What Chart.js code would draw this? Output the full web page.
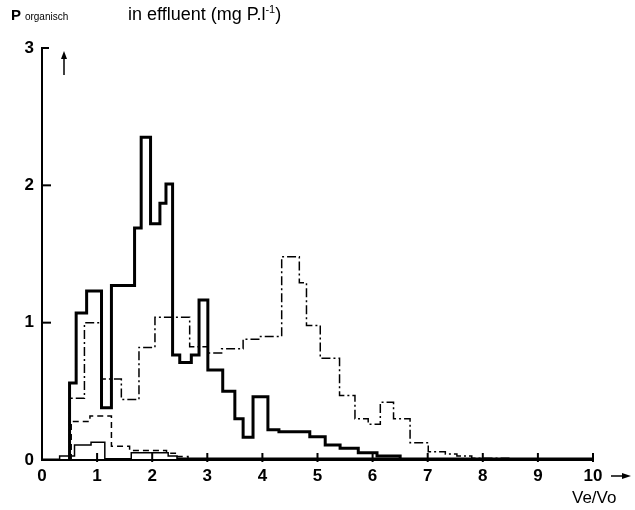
<!DOCTYPE html>
<html>
<head>
<meta charset="utf-8">
<script src="https://cdn.jsdelivr.net/npm/chart.js@4"></script>
<style>
  body { margin: 0; background: #fff; }
  #wrap { position: relative; width: 635px; height: 510px; }
  .t { position: absolute; font-family: "Liberation Sans", Arial, sans-serif; color: #000; white-space: nowrap; }
</style>
</head>
<body>
<div id="wrap">
  <canvas id="grafica" width="635" height="510"></canvas>
  <div class="t" style="left:11px; top:6px; font-size:15px; font-weight:bold;">P <span style="font-size:10px; font-weight:normal;">organisch</span></div>
  <div class="t" style="left:128px; top:3px; font-size:18px;">in effluent (mg P.l<sup style="font-size:11px;">-1</sup>)</div>
</div>
<script>
// trappen: linkerrand van elk interval en de waarde op dat interval
const randDik = [0.5, 0.62, 0.81, 1.08, 1.26, 1.68, 1.80, 1.97, 2.14, 2.25, 2.37, 2.50, 2.71, 2.85, 3.01, 3.28, 3.50, 3.65, 3.83, 4.10, 4.30, 4.86, 5.14, 5.41, 5.74, 6.08, 6.5];
const waardeDik = [0.56, 1.07, 1.23, 0.38, 1.27, 1.69, 2.35, 1.72, 1.87, 2.01, 0.765, 0.71, 0.765, 1.165, 0.655, 0.50, 0.30, 0.165, 0.46, 0.22, 0.205, 0.17, 0.11, 0.085, 0.053, 0.03, 0];

const randStreepPunt = [0.5, 0.77, 1.08, 1.44, 1.76, 2.05, 2.68, 3.01, 3.26, 3.65, 3.95, 4.35, 4.67, 4.80, 5.05, 5.40, 5.68, 5.92, 6.14, 6.38, 6.68, 7.01, 7.32, 7.53, 7.8, 8.5];
const waardeStreepPunt = [0.45, 1.0, 0.59, 0.44, 0.82, 1.04, 0.825, 0.78, 0.81, 0.88, 0.90, 1.48, 1.29, 0.98, 0.74, 0.47, 0.30, 0.26, 0.42, 0.30, 0.126, 0.06, 0.044, 0.03, 0.012, 0];

const randStreep = [0.53, 0.87, 1.26, 1.59, 2.26, 2.42, 2.65, 3.1];
const waardeStreep = [0.28, 0.32, 0.10, 0.07, 0.05, 0.025, 0.01, 0];

const randDun = [0, 0.32, 0.59, 0.89, 1.14, 1.62, 2.29, 2.45, 10];
const waardeDun = [0.005, 0.03, 0.11, 0.13, 0.01, 0.053, 0.03, 0.012, 0.012];

const xLabels = ['0', '1', '2', '3', '4', '5', '6', '7', '8', '9', '10'];
const yLabels = ['0', '1', '2', '3'];

const trap = (randen, waarden) => [{x: randen[0], y: 0}].concat(randen.map((x, i) => ({x: x, y: waarden[i]})));

const lijn = (randen, waarden, breedte, streep) => ({
    data: trap(randen, waarden),
    stepped: 'before',
    borderColor: '#000',
    borderWidth: breedte,
    borderDash: streep,
    pointRadius: 0,
    fill: false
});

const font = {family: '"Liberation Sans", Arial, sans-serif', size: 17, weight: 'bold'};

const extraTekening = {
    id: 'extraTekening',
    afterDraw(chart) {
        const ctx = chart.ctx;
        const sx = chart.scales.x, sy = chart.scales.y;
        const y0 = sy.getPixelForValue(0), x0 = sx.getPixelForValue(0);
        ctx.save();
        ctx.strokeStyle = '#000';
        ctx.fillStyle = '#000';
        ctx.lineWidth = 2;
        ctx.setLineDash([]);
        for (let i = 1; i <= 10; i++) {
            const px = sx.getPixelForValue(i);
            ctx.beginPath(); ctx.moveTo(px, y0 + 2); ctx.lineTo(px, y0 - 7); ctx.stroke();
        }
        for (let j = 1; j <= 3; j++) {
            const py = sy.getPixelForValue(j);
            ctx.beginPath(); ctx.moveTo(x0, py); ctx.lineTo(x0 + (j === 3 ? 7 : 9), py); ctx.stroke();
        }
        // pijl naar rechts na 10
        ctx.lineWidth = 1.5;
        ctx.beginPath(); ctx.moveTo(611, 476); ctx.lineTo(626, 476); ctx.stroke();
        ctx.beginPath(); ctx.moveTo(631, 476); ctx.lineTo(622, 473); ctx.lineTo(622, 479); ctx.closePath(); ctx.fill();
        // pijl omhoog
        ctx.beginPath(); ctx.moveTo(64, 75); ctx.lineTo(64, 56); ctx.stroke();
        ctx.beginPath(); ctx.moveTo(64, 51); ctx.lineTo(61, 59); ctx.lineTo(67, 59); ctx.closePath(); ctx.fill();
        ctx.font = '17px "Liberation Sans", Arial, sans-serif';
        ctx.textAlign = 'left';
        ctx.textBaseline = 'middle';
        ctx.fillText('Ve/Vo', 572, 498);
        ctx.restore();
    }
};

new Chart(document.getElementById('grafica').getContext('2d'), {
    type: 'line',
    data: {
        datasets: [
            lijn(randDik, waardeDik, 3, []),
            lijn(randStreepPunt, waardeStreepPunt, 1.5, [9, 3, 2, 3]),
            lijn(randStreep, waardeStreep, 1.5, [6, 4]),
            lijn(randDun, waardeDun, 1.5, [])
        ]
    },
    options: {
        responsive: false,
        animation: false,
        layout: {padding: {left: 0, right: 42, top: 48, bottom: 0}},
        plugins: {legend: {display: false}, tooltip: {enabled: false}},
        scales: {
            x: {
                type: 'linear', min: 0, max: 10,
                afterFit: (s) => { s.height = 50; },
                afterBuildTicks: (s) => { s.ticks = xLabels.map((l, i) => ({value: i})); },
                ticks: {color: '#000', font: font, padding: 6, maxRotation: 0, autoSkip: false,
                    callback: (v, i) => xLabels[i]},
                grid: {display: false, drawTicks: false},
                border: {color: '#000', width: 2}
            },
            y: {
                min: 0, max: 3,
                afterFit: (s) => { s.width = 42; },
                afterBuildTicks: (s) => { s.ticks = yLabels.map((l, i) => ({value: i})); },
                ticks: {color: '#000', font: font, padding: 8,
                    callback: (v, i) => yLabels[i]},
                grid: {display: false, drawTicks: false},
                border: {color: '#000', width: 2}
            }
        }
    },
    plugins: [extraTekening]
});
</script>
</body>
</html>
